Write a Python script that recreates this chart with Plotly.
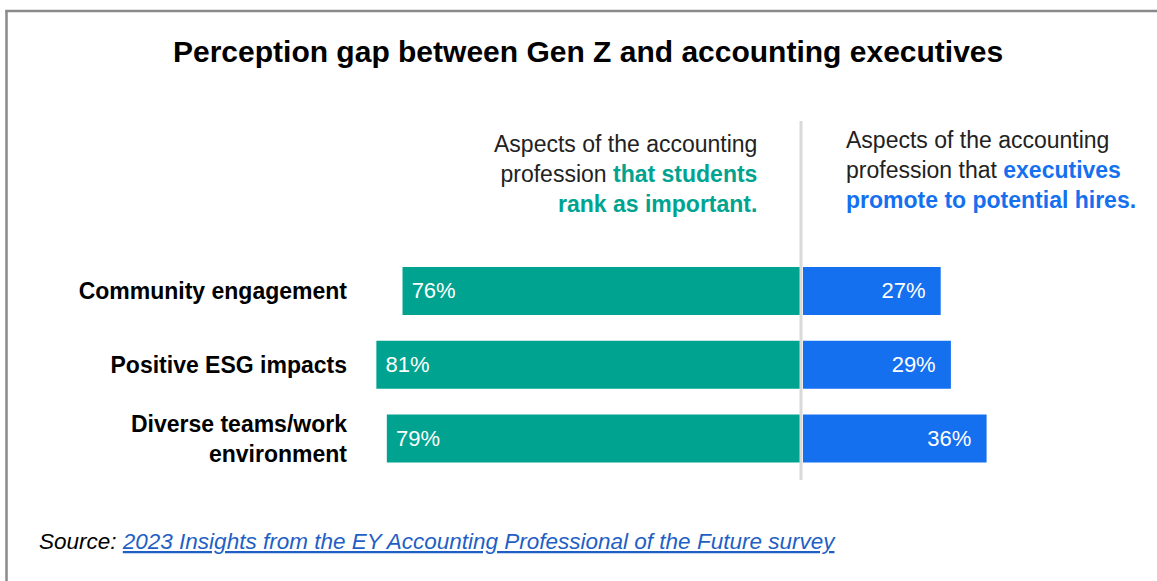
import plotly.graph_objects as go

W, H = 1157, 581

categories = ["Community engagement", "Positive ESG impacts", "Diverse teams/work<br>environment"]
students = [76, 81, 79]
executives = [27, 29, 36]

TEAL = "#00a390"
BLUE = "#1570f0"
FONT = "Liberation Sans, Arial, sans-serif"


def px(x):
    return x / W


def py(y):
    return 1 - y / H


fig = go.Figure()
fig.add_trace(go.Bar(
    y=categories, x=students, orientation="h", xaxis="x", yaxis="y",
    marker=dict(color=TEAL, line=dict(width=0)),
    text=[f"\u00a0{v}%" for v in students], textposition="inside",
    insidetextanchor="end", textangle=0,
    textfont=dict(color="white", size=22, family=FONT),
    hoverinfo="skip", showlegend=False,
))
fig.add_trace(go.Bar(
    y=categories, x=executives, orientation="h", xaxis="x2", yaxis="y",
    marker=dict(color=BLUE, line=dict(width=0)),
    text=[f"{v}%\u00a0\u00a0" for v in executives], textposition="inside",
    insidetextanchor="end", textangle=0,
    textfont=dict(color="white", size=22, family=FONT),
    hoverinfo="skip", showlegend=False,
))

fig.update_layout(
    width=W, height=H,
    margin=dict(l=0, r=0, t=0, b=0),
    paper_bgcolor="white", plot_bgcolor="rgba(0,0,0,0)",
    bargap=0.35,
    font=dict(family=FONT, color="black"),
    xaxis=dict(domain=[px(277), px(800)], range=[100, 0], visible=False, fixedrange=True),
    xaxis2=dict(domain=[px(803), px(1109)], range=[0, 60], visible=False, fixedrange=True, anchor="y"),
    yaxis=dict(
        domain=[py(475.5), py(254)], range=[2.5, -0.5],
        categoryorder="array", categoryarray=categories,
        anchor="free", position=px(347), showline=False, showgrid=False,
        zeroline=False, ticks="", ticklabelstandoff=0,
        tickfont=dict(size=23, family=FONT, color="black", weight="bold"),
        fixedrange=True,
    ),
    showlegend=False,
)

shapes = [
    dict(type="line", xref="paper", yref="paper", x0=px(6.5), x1=px(6.5), y0=py(10), y1=0,
         line=dict(color="#8a8a8a", width=2.5)),
    dict(type="line", xref="paper", yref="paper", x0=px(5.5), x1=1, y0=py(11), y1=py(11),
         line=dict(color="#8a8a8a", width=2.5)),
    dict(type="line", xref="paper", yref="paper", x0=px(801), x1=px(801), y0=py(121), y1=py(480),
         line=dict(color="#d9d9d9", width=3), layer="above"),
]
fig.update_layout(shapes=shapes)

annotations = [
    dict(text="<b>Perception gap between Gen Z and accounting executives</b>",
         x=px(588), y=py(52), xref="paper", yref="paper", showarrow=False,
         xanchor="center", yanchor="middle", font=dict(size=30, family=FONT, color="black")),
    dict(text=("Aspects of the accounting<br>profession "
               f"<span style='color:{TEAL}'><b>that students</b></span><br>"
               f"<span style='color:{TEAL}'><b>rank as important.</b></span>"),
         x=px(759), y=py(174), xref="paper", yref="paper", showarrow=False,
         xanchor="right", yanchor="middle", align="right",
         font=dict(size=23, family=FONT, color="#222222")),
    dict(text=("Aspects of the accounting<br>profession that "
               f"<span style='color:{BLUE}'><b>executives</b></span><br>"
               f"<span style='color:{BLUE}'><b>promote to potential hires.</b></span>"),
         x=px(844), y=py(170), xref="paper", yref="paper", showarrow=False,
         xanchor="left", yanchor="middle", align="left",
         font=dict(size=23, family=FONT, color="#222222")),
    dict(text=("<i>Source: </i><i><a href='https://www.ey.com' style='color:#1f5fc5'>"
               "<span style='color:#1f5fc5'><u>2023 Insights from the EY Accounting Professional of the Future survey</u></span></a></i>"),
         x=px(37), y=py(541), xref="paper", yref="paper", showarrow=False,
         xanchor="left", yanchor="middle", align="left",
         font=dict(size=22.5, family=FONT, color="black")),
]
fig.update_layout(annotations=annotations)

fig.write_html("out.html")
